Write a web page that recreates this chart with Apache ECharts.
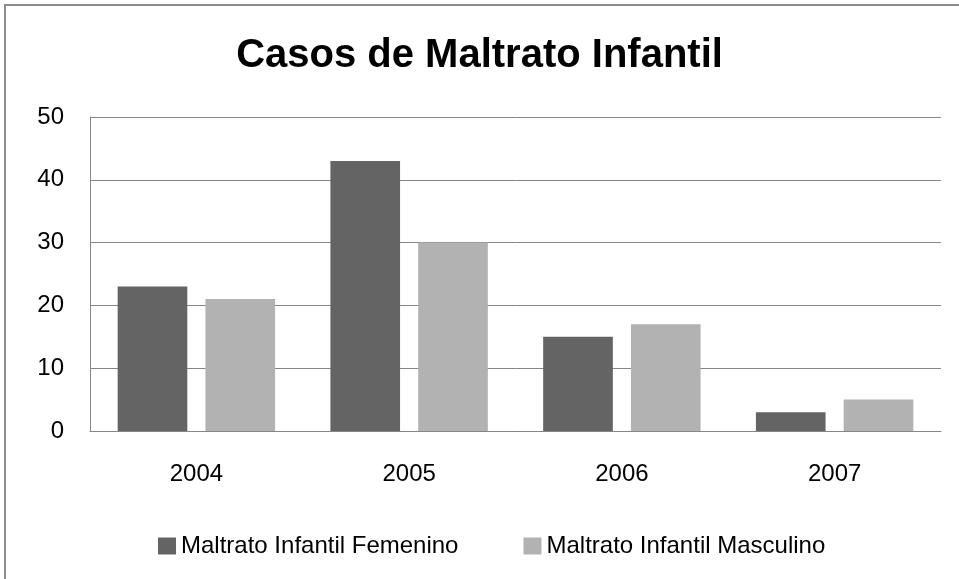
<!DOCTYPE html>
<html>
<head>
    <meta charset="utf-8">
    <title>Casos de Maltrato Infantil</title>
    <script src="https://cdn.jsdelivr.net/npm/echarts@6/dist/echarts.min.js"></script>
    <style>
        body { margin: 0; background: #fff; }
        #frame { position: absolute; left: 4px; top: 4px; width: 960px; height: 580px;
                 border-left: 2px solid #8c8c8c; border-top: 2px solid #8c8c8c; }
        #chart { position: absolute; left: -6px; top: -6px; width: 959px; height: 579px; }
    </style>
</head>
<body>
    <div id="frame"><div id="chart"></div></div>
    <script type="text/javascript">
        // datos
        var years = ['2004', '2005', '2006', '2007'];
        var femenino = [23, 43, 15, 3];
        var masculino = [21, 30, 17, 5];
        var seriesNames = ['Maltrato Infantil Femenino', 'Maltrato Infantil Masculino'];

        var font = 'Liberation Sans, Arial, sans-serif';

        var option = {
            animation: false,
            title: {
                text: 'Casos de Maltrato Infantil',
                left: 'center',
                top: 31,
                textStyle: { fontFamily: font, fontSize: 40, fontWeight: 'bold', color: '#000' }
            },
            legend: {
                data: seriesNames,
                top: 529,
                left: 153,
                itemWidth: 18,
                itemHeight: 17,
                itemGap: 65,
                icon: 'rect',
                textStyle: { fontFamily: font, fontSize: 24, color: '#000', padding: [0, 0, 0, 0] }
            },
            grid: { left: 90, right: 18, top: 117, bottom: 148, containLabel: false },
            xAxis: {
                type: 'category',
                data: years,
                axisTick: { show: false },
                axisLine: { lineStyle: { color: '#868686', width: 1 } },
                axisLabel: { margin: 31, fontFamily: font, fontSize: 24, color: '#000' }
            },
            yAxis: {
                type: 'value',
                min: 0,
                max: 50,
                interval: 10,
                axisLine: { show: true, lineStyle: { color: '#868686', width: 1 } },
                axisTick: { show: false },
                splitLine: { lineStyle: { color: '#868686', width: 1 } },
                axisLabel: { margin: 26, fontFamily: font, fontSize: 24, color: '#000' }
            },
            series: [
                {
                    name: seriesNames[0],
                    type: 'bar',
                    data: femenino,
                    barGap: '26%',
                    barCategoryGap: '26%',
                    itemStyle: { color: '#646464' }
                },
                {
                    name: seriesNames[1],
                    type: 'bar',
                    data: masculino,
                    itemStyle: { color: '#b2b2b2' }
                }
            ]
        };

        var chart = echarts.init(document.getElementById('chart'));
        chart.setOption(option);
    </script>
</body>
</html>
